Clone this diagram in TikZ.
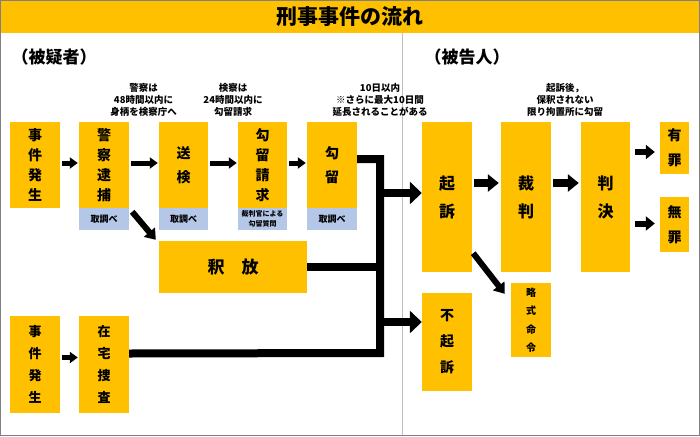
\documentclass[tikz,border=0pt]{standalone}
\usepackage{fontspec}
\setmainfont{Noto Sans CJK JP}
\usepackage{tikz}
\usetikzlibrary{arrows.meta,calc}
\definecolor{KeyYellow}{RGB}{255,192,0}
\definecolor{NoteBlue}{RGB}{180,199,231}
\definecolor{RuleGray}{RGB}{190,190,190}
\tikzset{
  ybox/.style={fill=KeyYellow, inner sep=0pt, align=center, font=\bfseries\fontsize{14}{20}\selectfont},
  bbox/.style={fill=NoteBlue, inner sep=0pt, align=center, minimum width=50, minimum height=22, font=\bfseries\fontsize{9}{10}\selectfont},
  note/.style={align=center, inner sep=0pt, font=\bfseries\fontsize{9.5}{12.2}\selectfont},
  smallarr/.style={line width=5pt, -{Triangle[length=8pt,width=11pt]}, shorten <=2pt, shorten >=1pt},
  midarr/.style={line width=8pt, -{Triangle[length=11pt,width=17pt]}, shorten <=2pt, shorten >=2pt},
  sidearr/.style={line width=6pt, -{Triangle[length=9pt,width=14pt]}, shorten <=5pt, shorten >=5pt},
  diagarr/.style={line width=6pt, -{Triangle[length=10pt,width=14pt]}},
  bigarr/.style={line width=8pt, -{Triangle[length=12pt,width=22pt]}},
  bar/.style={line width=8pt, line join=miter}
}
\begin{document}
\begin{tikzpicture}[x=1pt,y=-1pt]
  \useasboundingbox (0,0) rectangle (700,436);
  % title and frame
  \fill[KeyYellow] (0,0) rectangle (700,33);
  \node[font=\bfseries\fontsize{21}{24}\selectfont] (title) at (350,17) {刑事事件の流れ};
  \draw[RuleGray, line width=1pt] (402,33) -- (402,436);
  \draw[gray, line width=1pt] (0.5,0.5) rectangle (699.5,435.5);
  \node[anchor=west, font=\bfseries\fontsize{17}{20}\selectfont] (higisha) at (8,57) {（被疑者）};
  \node[anchor=west, font=\bfseries\fontsize{17}{20}\selectfont] (hikokunin) at (421,57) {（被告人）};

  % notes above the flow
  \node[note] (note1) at (143.5,100) {警察は\\48時間以内に\\身柄を検察庁へ};
  \node[note] (note2) at (233,100) {検察は\\24時間以内に\\勾留請求};
  \node[note] (note3) at (380,100) {10日以内\\※さらに最大10日間\\延長されることがある};
  \node[note] (note4) at (565,100) {起訴後，\\保釈されない\\限り拘置所に勾留};

  % suspect side
  \node[ybox, minimum width=50, minimum height=86] (hassei) at (35,165) {事\\件\\発\\生};
  \node[ybox, minimum width=50, minimum height=86] (taiho) at (104,165) {警\\察\\逮\\捕};
  \node[bbox] (tori1) at (104,219) {取調べ};
  \node[ybox, minimum width=49, minimum height=86, font=\bfseries\fontsize{14}{24}\selectfont] (soken) at (183.5,165) {送\\検};
  \node[bbox, minimum width=49] (tori2) at (183.5,219) {取調べ};
  \node[ybox, minimum width=49, minimum height=86] (seikyu) at (262.5,165) {勾\\留\\請\\求};
  \node[bbox, minimum width=49, font=\bfseries\fontsize{7}{10}\selectfont] (shitsumon) at (262.5,219) {裁判官による\\勾留質問};
  \node[ybox, minimum width=50, minimum height=86, font=\bfseries\fontsize{14}{24}\selectfont] (koryu) at (332,165) {勾\\留};
  \node[bbox] (tori3) at (332,219) {取調べ};
  \node[ybox, minimum width=148, minimum height=52, font=\bfseries\fontsize{17}{20}\selectfont] (shakuho) at (233,267) {釈\hspace{1em}放};
  \node[ybox, minimum width=50, minimum height=97, font=\bfseries\fontsize{13}{22}\selectfont] (hassei2) at (35,364.5) {事\\件\\発\\生};
  \node[ybox, minimum width=50, minimum height=97, font=\bfseries\fontsize{13}{22}\selectfont] (zaitaku) at (104,364.5) {在\\宅\\捜\\査};

  % defendant side
  \node[ybox, minimum width=50, minimum height=150, font=\bfseries\fontsize{16}{28}\selectfont] (kiso) at (447,197) {起\\訴};
  \node[ybox, minimum width=50, minimum height=150, font=\bfseries\fontsize{16}{28}\selectfont] (saiban) at (526,197) {裁\\判};
  \node[ybox, minimum width=49, minimum height=150, font=\bfseries\fontsize{16}{28}\selectfont] (hanketsu) at (605.5,197) {判\\決};
  \node[ybox, minimum width=29, minimum height=52, font=\bfseries\fontsize{14}{25}\selectfont] (yuzai) at (674.5,148) {有\\罪};
  \node[ybox, minimum width=29, minimum height=55, font=\bfseries\fontsize{14}{25}\selectfont] (muzai) at (674.5,224.5) {無\\罪};
  \node[ybox, minimum width=40, minimum height=74, font=\bfseries\fontsize{10}{18.5}\selectfont] (ryakushiki) at (531,320) {略\\式\\命\\令};
  \node[ybox, minimum width=50, minimum height=98, font=\bfseries\fontsize{14}{26}\selectfont] (fukiso) at (447,342) {不\\起\\訴};

  % arrows
  \draw[smallarr] ([yshift=2]hassei.east) -- ([yshift=2]taiho.west);
  \draw[smallarr] ([yshift=2]taiho.east) -- ([yshift=2]soken.west);
  \draw[smallarr] ([yshift=2]soken.east) -- ([yshift=2]seikyu.west);
  \draw[smallarr] ([yshift=2]seikyu.east) -- ([yshift=2]koryu.west);
  \draw[smallarr] ([yshift=7]hassei2.east) -- ([yshift=7]zaitaku.west);
  \draw[diagarr] ([xshift=3,yshift=-4]tori1.north east) -- ([xshift=-3,yshift=1]shakuho.north west);

  % joining bars
  \coordinate (jtop) at (380,159);
  \coordinate (jbot) at (380,353);
  \coordinate (kisoin) at ([yshift=4]kiso.west);
  \coordinate (fukisoin) at ([yshift=20]fukiso.west);
  \draw[bar] ([yshift=6]koryu.east) -- (jtop) -- (jbot) -- ([yshift=11]zaitaku.east);
  \draw[bar] (shakuho.east) -- (shakuho.east -| jtop);
  \draw[bigarr] (kisoin -| jtop) -- (kisoin);
  \draw[bigarr] (fukisoin -| jtop) -- (fukisoin);

  \draw[midarr] ([yshift=14]kiso.east) -- ([yshift=14]saiban.west);
  \draw[midarr] ([yshift=14]saiban.east) -- ([yshift=14]hanketsu.west);
  \draw[sidearr] ([yshift=-4]hanketsu.east |- yuzai.west) -- ([yshift=-4]yuzai.west);
  \draw[sidearr] ([yshift=1]hanketsu.east |- muzai.west) -- ([yshift=1]muzai.west);
  \draw[diagarr] ([xshift=1,yshift=19]kiso.south east) -- ([xshift=-6,yshift=-11]ryakushiki.north west);
\end{tikzpicture}
\end{document}
